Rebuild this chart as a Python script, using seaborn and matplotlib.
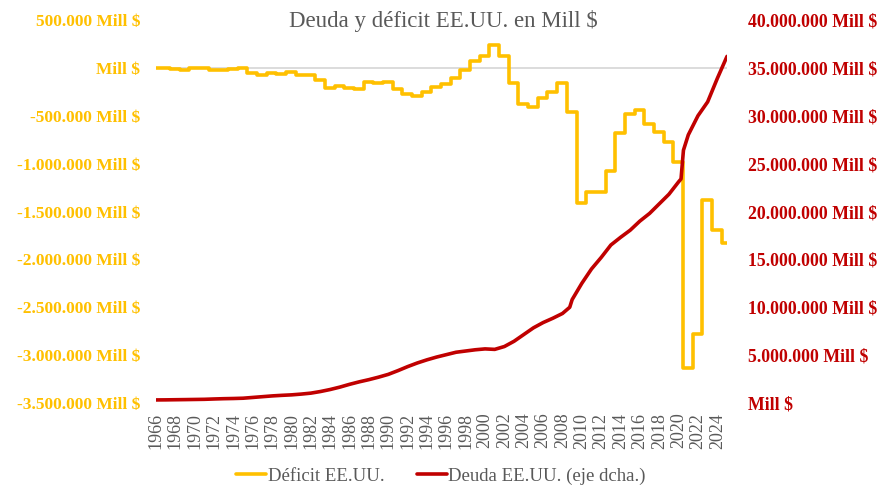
import numpy as np
import pandas as pd
import matplotlib
matplotlib.use("Agg")
import matplotlib.pyplot as plt
import seaborn as sns
from matplotlib.ticker import FixedLocator, FuncFormatter
from matplotlib.lines import Line2D

# ---------------- data (Mill $) ----------------
deficit_years = list(range(1966, 2025))
deficit_values = [
    -3700, -8600, -25200, 3200, -2800, -23000, -23400, -14900, -6100, -53200,
    -73700, -53700, -59200, -40700, -73800, -79000, -128000, -207800, -185400, -212300,
    -221200, -149700, -155200, -152600, -221000, -269200, -290300, -255100, -203200, -164000,
    -107400, -21900, 69300, 125600, 236200, 128200, -157800, -377600, -412700, -318300,
    -248200, -160700, -458600, -1412700, -1294400, -1299600, -1076600, -679800, -484600, -442000,
    -584700, -665400, -779100, -983600, -3131900, -2775300, -1375500, -1693700, -1832800,
]

debt_dates = [
    1966, 1967, 1968, 1969, 1970, 1971, 1972, 1973, 1974, 1975,
    1976, 1977, 1978, 1979, 1980, 1981, 1982, 1983, 1984, 1985,
    1986, 1987, 1988, 1989, 1990, 1991, 1992, 1993, 1994, 1995,
    1996, 1997, 1998, 1999, 2000, 2001, 2002, 2003, 2004, 2005,
    2006, 2007, 2008, 2008.75, 2009, 2010, 2011, 2012, 2013, 2014,
    2015, 2016, 2017, 2018, 2019, 2020, 2020.25, 2020.5, 2021, 2022,
    2023, 2024, 2025,
]
debt_values = [
    320000, 328000, 342000, 355000, 370000, 385000, 420000, 450000, 470000, 500000,
    580000, 660000, 740000, 800000, 850000, 930000, 1030000, 1200000, 1410000, 1660000,
    1950000, 2210000, 2440000, 2700000, 2990000, 3380000, 3800000, 4180000, 4510000, 4800000,
    5050000, 5300000, 5430000, 5560000, 5650000, 5600000, 5900000, 6450000, 7150000, 7850000,
    8400000, 8850000, 9350000, 10000000, 10800000, 12500000, 14000000, 15200000, 16500000, 17300000,
    18050000, 19000000, 19800000, 20800000, 21800000, 23100000, 23400000, 26400000, 28000000, 30000000,
    31450000, 33900000, 36200000,
]

year_ticks = list(range(1966, 2025, 2))
left_ticks = list(range(-3500000, 500001, 500000))
right_ticks = list(range(0, 40000001, 5000000))

title = "Deuda y déficit EE.UU. en Mill $"
label_deficit = "Déficit EE.UU."
label_debt = "Deuda EE.UU. (eje dcha.)"

# ---------------- style ----------------
GOLD = "#FFC000"
RED = "#C00000"
GRAY = "#595959"

sns.set_theme(style="white")
plt.rcParams["font.family"] = ["Liberation Serif", "DejaVu Serif"]

fig = plt.figure(figsize=(8.85, 4.98), dpi=100)
W, H = 885, 498
x0, x1, y0, y1 = 156, 727, 20, 403
ax = fig.add_axes([x0 / W, 1 - y1 / H, (x1 - x0) / W, (y1 - y0) / H])
ax2 = ax.twinx()

# deficit: yearly steps
offset = 0.45
dx = [1966.0] + [y + offset for y in deficit_years] + [2025.0]
dy = [deficit_values[0]] + deficit_values + [deficit_values[-1]]
df_def = pd.DataFrame({"x": dx, "y": dy})
ax.axhline(0, color="#D9D9D9", lw=1.3, zorder=0)
sns.lineplot(data=df_def, x="x", y="y", ax=ax, color=GOLD, lw=2.6,
             drawstyle="steps-post", sort=False, estimator=None, legend=False)

df_debt = pd.DataFrame({"x": debt_dates, "y": debt_values})
sns.lineplot(data=df_debt, x="x", y="y", ax=ax2, color=RED, lw=2.6,
             sort=False, estimator=None, legend=False)

ax.set_xlim(1966, 2025)
ax.set_ylim(-3500000, 500000)
ax2.set_ylim(0, 40000000)

def fmt(v, pos=None):
    v = int(round(v))
    if v == 0:
        return "Mill $"
    s = f"{abs(v):,}".replace(",", ".")
    return ("-" if v < 0 else "") + s + " Mill $"

ax.yaxis.set_major_locator(FixedLocator(left_ticks))
ax.yaxis.set_major_formatter(FuncFormatter(fmt))
ax2.yaxis.set_major_locator(FixedLocator(right_ticks))
ax2.yaxis.set_major_formatter(FuncFormatter(fmt))

ax.set_xticks(year_ticks)
ax.set_xticklabels([str(y) for y in year_ticks], rotation=90, color=GRAY, fontsize=13)

for lab in ax.get_yticklabels():
    lab.set_color(GOLD); lab.set_fontweight("bold"); lab.set_fontsize(12.5)
for lab in ax2.get_yticklabels():
    lab.set_color(RED); lab.set_fontweight("bold"); lab.set_fontsize(12.8)

ax.tick_params(axis="y", length=0, pad=11.5)
ax2.tick_params(axis="y", length=0, pad=15)
ax.tick_params(axis="x", length=0, pad=7)
ax.set_xlabel(""); ax.set_ylabel(""); ax2.set_ylabel(""); ax2.set_xlabel("")
for a in (ax, ax2):
    for sp in a.spines.values():
        sp.set_visible(False)
    a.grid(False)

fig.text(443 / W, 1 - 21 / H, title, ha="center", va="center", color=GRAY, fontsize=16.5)

handles = [Line2D([], [], color=GOLD, lw=2.6), Line2D([], [], color=RED, lw=2.6)]
fig.legend(handles, [label_deficit, label_debt], loc="center", bbox_to_anchor=(441 / W, 1 - 476 / H),
           ncol=2, frameon=False, fontsize=13.5, handlelength=1.6, handletextpad=0.1,
           columnspacing=1.7, labelcolor=GRAY)

fig.savefig("out.png", dpi=100)
